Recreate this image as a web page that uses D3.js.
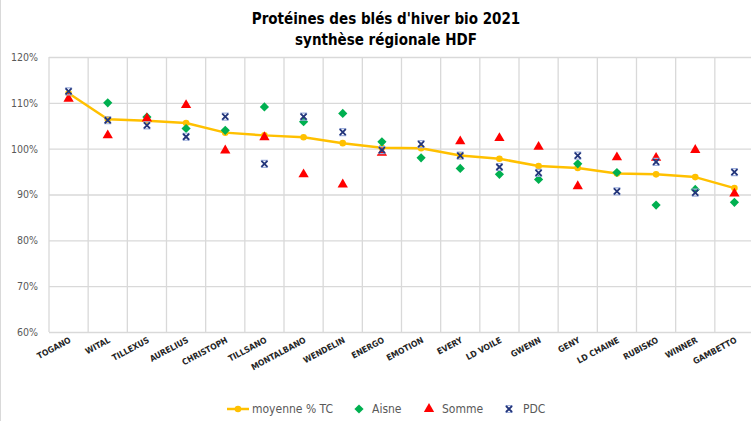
<!DOCTYPE html>
<html>
<head>
<meta charset="utf-8">
<script src="https://cdn.jsdelivr.net/npm/d3@7"></script>
<style>
    body { margin: 0; background: #fff; }
    svg { display: block; }
</style>
</head>
<body>
<div id="chart"></div>
<script>
// Values, in %.
var varietes = [ 'TOGANO', 'WITAL', 'TILLEXUS', 'AURELIUS', 'CHRISTOPH', 'TILLSANO', 'MONTALBANO', 'WENDELIN', 'ENERGO',
    'EMOTION', 'EVERY', 'LD VOILE', 'GWENN', 'GENY', 'LD CHAINE', 'RUBISKO', 'WINNER', 'GAMBETTO' ];
var moyenne = [ 112.1, 106.4, 106.1, 105.6, 103.5, 102.9, 102.5, 101.2, 100.2, 100.1, 98.5, 97.8, 96.2, 95.8, 94.6, 94.4, 93.8, 91.4 ];
var aisne = [ null, 110.0, 106.9, 104.4, 104.0, 109.1, 105.9, 107.7, 101.5, 98.0, 95.7, 94.4, 93.3, 96.7, 94.8, 87.7, 91.1, 88.3 ];
var somme = [ 110.9, 102.9, 106.6, 109.5, 99.6, 102.5, 94.4, 92.2, 99.1, null, 101.6, 102.3, 100.4, 91.8, 98.1, 98.0, 99.7, 90.2 ];
var pdc = [ 112.5, 106.2, 105.1, 102.6, 107.0, 96.7, 107.0, 103.6, 99.7, 101.0, 98.5, 96.0, 94.7, 98.5, 90.7, 97.1, 90.4, 94.9 ];
var yTicks = [ 60, 70, 80, 90, 100, 110, 120 ];
var titleLines = [ 'Protéines des blés d\'hiver bio 2021', 'synthèse régionale HDF' ];
var legendNames = [ 'moyenne % TC', 'Aisne', 'Somme', 'PDC' ];

var W = 751, H = 421;
var plot = { left: 49, right: 754, top: 57, bottom: 332 };
var font = '"Liberation Sans Narrow", "DejaVu Sans Condensed", "Liberation Sans", sans-serif';
var colors = { moyenne: '#ffc000', aisne: '#00b050', somme: '#ff0000', pdc: '#23357a', grid: '#d9d9d9', text: '#595959' };

var svg = d3.select( '#chart' )
    .append( 'svg' )
    .attr( 'width', W )
    .attr( 'height', H );

// chart frame (only the left edge is inside the picture)
svg.append( 'line' )
    .attr( 'x1', 0.5 ).attr( 'x2', 0.5 )
    .attr( 'y1', 0 ).attr( 'y2', H )
    .attr( 'stroke', colors.grid );

var x = d3.scaleBand()
    .domain( varietes )
    .range( [ plot.left, plot.right ] );

var y = d3.scaleLinear()
    .domain( [ 60, 120 ] )
    .range( [ plot.bottom, plot.top ] );

var cx = function ( i ) { return x( varietes[i] ) + x.bandwidth() / 2; };

// horizontal grid + y labels
var yAxis = svg.append( 'g' )
    .attr( 'transform', 'translate(' + plot.left + ',0)' )
    .call( d3.axisLeft( y )
        .tickValues( yTicks )
        .tickSize( -( plot.right - plot.left ) )
        .tickPadding( 11 )
        .tickFormat( function ( d ) { return d + '%'; } ) );
yAxis.select( '.domain' ).remove();
yAxis.selectAll( '.tick line' )
    .attr( 'stroke', colors.grid )
    .attr( 'stroke-width', 1.3 );
yAxis.selectAll( '.tick text' )
    .attr( 'fill', colors.text )
    .attr( 'font-family', font )
    .attr( 'font-size', '10.5px' );

// vertical grid at category edges
svg.append( 'g' )
    .selectAll( 'line' )
    .data( varietes )
    .join( 'line' )
        .attr( 'x1', function ( d ) { return x( d ); } )
        .attr( 'x2', function ( d ) { return x( d ); } )
        .attr( 'y1', plot.top )
        .attr( 'y2', plot.bottom )
        .attr( 'stroke', colors.grid )
        .attr( 'stroke-width', 1.3 );

// x labels, slanted
svg.append( 'g' )
    .selectAll( 'text' )
    .data( varietes )
    .join( 'text' )
        .attr( 'transform', function ( d, i ) { return 'translate(' + ( cx( i ) + 3 ) + ',' + 342 + ') rotate(-28)'; } )
        .attr( 'text-anchor', 'end' )
        .attr( 'font-family', font )
        .attr( 'font-size', '8.5px' )
        .attr( 'font-weight', 'bold' )
        .attr( 'fill', '#262626' )
        .text( function ( d ) { return d; } );

// title
svg.append( 'g' )
    .selectAll( 'text' )
    .data( titleLines )
    .join( 'text' )
        .attr( 'x', 386 )
        .attr( 'y', function ( d, i ) { return 24 + i * 21; } )
        .attr( 'text-anchor', 'middle' )
        .attr( 'font-family', font )
        .attr( 'font-size', '15px' )
        .attr( 'font-weight', 'bold' )
        .attr( 'fill', '#000' )
        .text( function ( d ) { return d; } );

// marker helpers
var diamond = 'M0,-4.6L4.6,0L0,4.6L-4.6,0Z';
var triangle = d3.symbol().type( d3.symbolTriangle ).size( 46 );
var drawCross = function ( g ) {
    g.append( 'path' )
        .attr( 'd', 'M-3.5,-3.5L3.5,3.5M-3.5,3.5L3.5,-3.5M-3.5,-3.5L3.5,-3.5M-3.5,3.5L3.5,3.5' )
        .attr( 'stroke', '#9fb0dd' )
        .attr( 'stroke-width', 1.2 );
    g.append( 'path' )
        .attr( 'd', 'M-3,-3L3,3M-3,3L3,-3' )
        .attr( 'stroke', colors.pdc )
        .attr( 'stroke-width', 1.8 );
};

// moyenne line
var line = d3.line()
    .x( function ( d, i ) { return cx( i ); } )
    .y( function ( d ) { return y( d ); } );
svg.append( 'path' )
    .datum( moyenne )
    .attr( 'd', line )
    .attr( 'fill', 'none' )
    .attr( 'stroke', colors.moyenne )
    .attr( 'stroke-width', 2.5 )
    .attr( 'stroke-linejoin', 'round' );
svg.append( 'g' )
    .selectAll( 'circle' )
    .data( moyenne )
    .join( 'circle' )
        .attr( 'cx', function ( d, i ) { return cx( i ); } )
        .attr( 'cy', function ( d ) { return y( d ); } )
        .attr( 'r', 3.3 )
        .attr( 'fill', colors.moyenne );

// Aisne
svg.append( 'g' )
    .selectAll( 'path' )
    .data( aisne.map( function ( v, i ) { return { v: v, i: i }; } ).filter( function ( d ) { return d.v !== null; } ) )
    .join( 'path' )
        .attr( 'transform', function ( d ) { return 'translate(' + cx( d.i ) + ',' + y( d.v ) + ')'; } )
        .attr( 'd', diamond )
        .attr( 'fill', colors.aisne );

// Somme
svg.append( 'g' )
    .selectAll( 'path' )
    .data( somme.map( function ( v, i ) { return { v: v, i: i }; } ).filter( function ( d ) { return d.v !== null; } ) )
    .join( 'path' )
        .attr( 'transform', function ( d ) { return 'translate(' + cx( d.i ) + ',' + y( d.v ) + ')'; } )
        .attr( 'd', triangle )
        .attr( 'fill', colors.somme );

// PDC
svg.append( 'g' )
    .selectAll( 'g' )
    .data( pdc.map( function ( v, i ) { return { v: v, i: i }; } ).filter( function ( d ) { return d.v !== null; } ) )
    .join( 'g' )
        .attr( 'transform', function ( d ) { return 'translate(' + cx( d.i ) + ',' + y( d.v ) + ')'; } )
        .each( function () { drawCross( d3.select( this ) ); } );

// legend
var legendY = 409;
var legend = svg.append( 'g' ).attr( 'font-family', font ).attr( 'font-size', '12px' ).attr( 'fill', colors.text );
var legendX = [ 227, 359, 429, 509 ];
var legendTextX = [ 252, 372, 442, 523 ];

legend.append( 'line' )
    .attr( 'x1', legendX[0] ).attr( 'x2', legendX[0] + 22 )
    .attr( 'y1', legendY ).attr( 'y2', legendY )
    .attr( 'stroke', colors.moyenne ).attr( 'stroke-width', 2.5 );
legend.append( 'circle' )
    .attr( 'cx', legendX[0] + 11 ).attr( 'cy', legendY ).attr( 'r', 3.3 )
    .attr( 'fill', colors.moyenne );
legend.append( 'path' )
    .attr( 'transform', 'translate(' + legendX[1] + ',' + legendY + ')' )
    .attr( 'd', diamond ).attr( 'fill', colors.aisne );
legend.append( 'path' )
    .attr( 'transform', 'translate(' + legendX[2] + ',' + legendY + ')' )
    .attr( 'd', triangle ).attr( 'fill', colors.somme );
drawCross( legend.append( 'g' ).attr( 'transform', 'translate(' + legendX[3] + ',' + legendY + ')' ) );

legend.selectAll( 'text' )
    .data( legendNames )
    .join( 'text' )
        .attr( 'x', function ( d, i ) { return legendTextX[i]; } )
        .attr( 'y', legendY )
        .attr( 'dy', '0.35em' )
        .text( function ( d ) { return d; } );
</script>
</body>
</html>
